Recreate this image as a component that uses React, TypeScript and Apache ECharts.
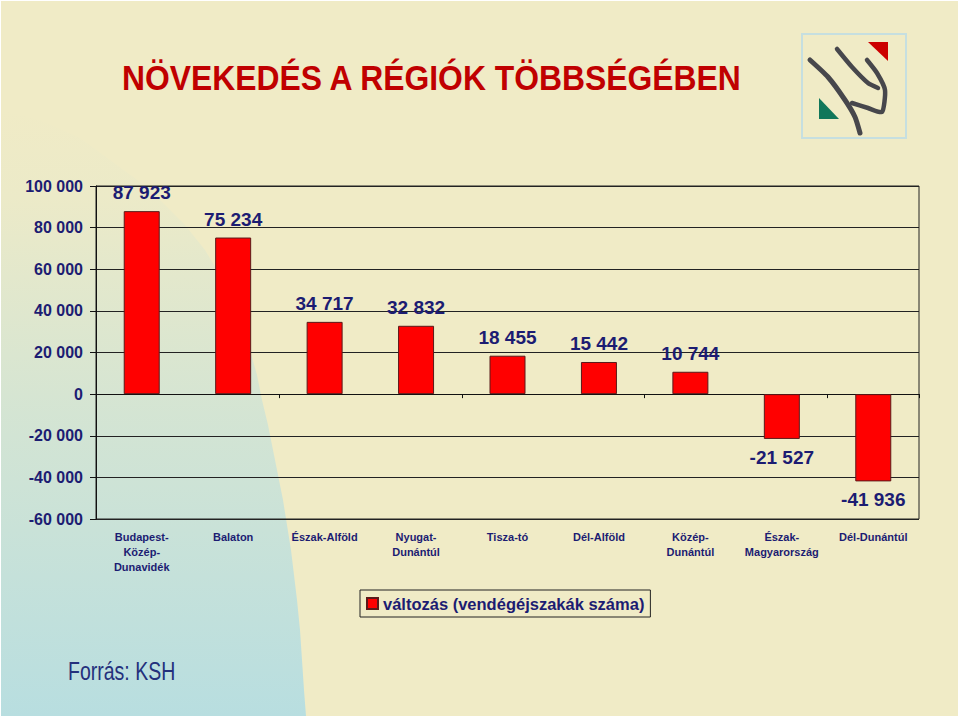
import React, { useEffect, useRef } from "react";
import * as echarts from "echarts";

const categories = [
  "Budapest-\nKözép-\nDunavidék",
  "Balaton",
  "Észak-Alföld",
  "Nyugat-\nDunántúl",
  "Tisza-tó",
  "Dél-Alföld",
  "Közép-\nDunántúl",
  "Észak-\nMagyarország",
  "Dél-Dunántúl",
];
const values = [87923, 75234, 34717, 32832, 18455, 15442, 10744, -21527, -41936];
const seriesName = "változás (vendégéjszakák száma)";
const yMin = -60000;
const yMax = 100000;
const yStep = 20000;
const titleText = "NÖVEKEDÉS A RÉGIÓK TÖBBSÉGÉBEN";
const sourceText = "Forrás: KSH";

const NAVY = "#1c1c72";
const FONT = "'Liberation Sans', Arial, sans-serif";

function fmt(v: number): string {
  const s = String(Math.abs(v)).replace(/\B(?=(\d{3})+(?!\d))/g, " ");
  return v < 0 ? "-" + s : s;
}

const scribble = { stroke: "#47474c", lineWidth: 4.5, lineCap: "round", lineJoin: "round", fill: "none" };

export default function App() {
  const ref = useRef<HTMLDivElement>(null);
  useEffect(() => {
    if (!ref.current) return;
    const chart = echarts.init(ref.current, undefined, { renderer: "svg" });
    const option: any = {
      animation: false,
      backgroundColor: "#ffffff",
      graphic: [
        {
          type: "rect",
          z: -100,
          silent: true,
          shape: { x: 1, y: 1, width: 957, height: 715 },
          style: { fill: "#f0ebc6" },
        },
        {
          type: "polygon",
          z: -90,
          silent: true,
          shape: {
            points: [
              [1, 110],
              [40, 120],
              [80, 138],
              [110, 160],
              [140, 182],
              [160, 200],
              [185, 225],
              [205, 250],
              [220, 275],
              [232, 300],
              [242, 325],
              [250, 350],
              [257, 375],
              [262, 400],
              [268, 425],
              [273, 450],
              [278, 475],
              [283, 500],
              [287, 525],
              [291, 550],
              [294, 575],
              [297, 600],
              [300, 630],
              [302, 660],
              [304, 690],
              [306, 716],
              [1, 716],
            ],
          },
          style: {
            fill: new echarts.graphic.LinearGradient(0, 0, 0, 1, [
              { offset: 0, color: "rgba(184,222,224,0)" },
              { offset: 0.15, color: "rgba(184,222,224,0.08)" },
              { offset: 0.5, color: "rgba(184,222,224,0.5)" },
              { offset: 1, color: "rgba(184,222,224,1)" },
            ]),
          },
        },
        {
          type: "text",
          x: 122,
          y: 78,
          scaleX: 0.91,
          style: {
            text: titleText,
            fill: "#c00000",
            font: `bold 35px ${FONT}`,
            verticalAlign: "middle",
            align: "left",
          },
        },
        {
          type: "text",
          x: 68,
          y: 672,
          scaleX: 0.78,
          style: {
            text: sourceText,
            fill: "#24307c",
            font: `25px ${FONT}`,
            verticalAlign: "middle",
            align: "left",
          },
        },
        {
          type: "rect",
          shape: { x: 802, y: 34, width: 104, height: 104 },
          style: { fill: "none", stroke: "#c6dfe0", lineWidth: 2 },
        },
        {
          type: "polygon",
          shape: { points: [[868, 42], [888, 42], [888, 61]] },
          style: { fill: "#cc0000" },
        },
        {
          type: "polygon",
          shape: { points: [[819, 98], [819, 119], [839, 119]] },
          style: { fill: "#11775a" },
        },
        {
          type: "polyline",
          shape: {
            smooth: 0.2,
            points: [[810, 60], [828, 77], [845, 100], [855, 117], [860, 133]],
          },
          style: { ...scribble, lineWidth: 5 },
        },
        {
          type: "polyline",
          shape: {
            smooth: 0.2,
            points: [[837, 49], [852, 67], [868, 83], [878, 88]],
          },
          style: scribble,
        },
        {
          type: "polyline",
          shape: {
            smooth: 0.2,
            points: [[867, 60], [877, 73], [885, 90], [882, 112], [868, 108], [852, 103]],
          },
          style: scribble,
        },
      ],
      legend: {
        left: 360,
        top: 590,
        padding: [5, 6, 5, 6],
        itemWidth: 11,
        itemHeight: 11,
        itemGap: 5,
        borderColor: "#222",
        borderWidth: 1,
        backgroundColor: "#f0ebc6",
        icon: "rect",
        textStyle: { color: NAVY, fontSize: 16.5, fontWeight: "bold", fontFamily: FONT },
        data: [seriesName],
      },
      grid: {
        left: 96,
        top: 186,
        right: 41,
        bottom: 198,
        show: true,
        borderColor: "#222",
        borderWidth: 1,
        backgroundColor: "transparent",
      },
      xAxis: [
        {
          type: "category",
          data: categories,
          axisLine: { onZero: true, lineStyle: { color: "#111", width: 1 } },
          axisTick: { show: true, length: 4, lineStyle: { color: "#111" } },
          axisLabel: { show: false },
          splitLine: { show: false },
        },
        {
          type: "category",
          data: categories,
          position: "bottom",
          axisLine: { show: false, onZero: false },
          axisTick: { show: false },
          axisLabel: {
            interval: 0,
            color: NAVY,
            fontSize: 11,
            fontWeight: "bold",
            fontFamily: FONT,
            lineHeight: 15,
            margin: 10,
          },
        },
      ],
      yAxis: {
        type: "value",
        min: yMin,
        max: yMax,
        interval: yStep,
        axisLine: { show: true, lineStyle: { color: "#111" } },
        axisTick: { show: true, length: 6, lineStyle: { color: "#111" } },
        axisLabel: {
          formatter: (v: number) => fmt(v),
          color: NAVY,
          fontSize: 16,
          fontWeight: "bold",
          fontFamily: FONT,
          margin: 13,
        },
        splitLine: { show: true, lineStyle: { color: "#222", width: 1 } },
      },
      series: [
        {
          name: seriesName,
          type: "bar",
          xAxisIndex: 0,
          barWidth: 36,
          itemStyle: { color: "#ff0000", borderColor: "#5a1a1a", borderWidth: 1 },
          data: values.map((v) => ({
            value: v,
            label: { position: v < 0 ? "bottom" : "top" },
          })),
          label: {
            show: true,
            distance: 9,
            formatter: (p: any) => fmt(p.value),
            color: NAVY,
            fontSize: 19,
            fontWeight: "bold",
            fontFamily: FONT,
          },
        },
      ],
    };
    chart.setOption(option);
    return () => chart.dispose();
  }, []);
  return (
    <div
      ref={ref}
      style={{ position: "fixed", left: 0, top: 0, width: 960, height: 717 }}
    />
  );
}
